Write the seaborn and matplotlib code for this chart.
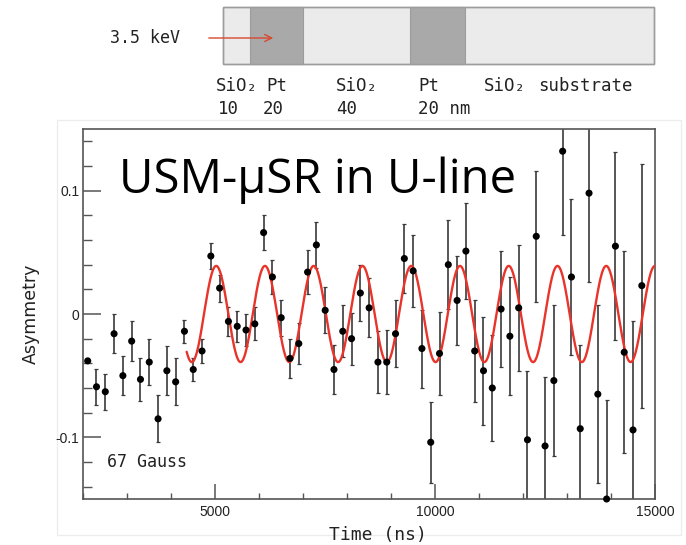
import numpy as np
import pandas as pd
import matplotlib
matplotlib.use("Agg")
import matplotlib.pyplot as plt
import seaborn as sns
from matplotlib.patches import Rectangle, FancyArrowPatch
from matplotlib.ticker import MultipleLocator, FixedLocator

# ---------------- data ----------------
time_ns = [2100, 2300, 2500, 2700, 2900, 3100, 3300, 3500, 3700, 3900,
           4100, 4300, 4500, 4700, 4900, 5100, 5300, 5500, 5700, 5900,
           6100, 6300, 6500, 6700, 6900, 7100, 7300, 7500, 7700, 7900,
           8100, 8300, 8500, 8700, 8900, 9100, 9300, 9500, 9700, 9900,
           10100, 10300, 10500, 10700, 10900, 11100, 11300, 11500, 11700, 11900,
           12100, 12300, 12500, 12700, 12900, 13100, 13300, 13500, 13700, 13900,
           14100, 14300, 14500, 14700]
asymmetry = [-0.038, -0.059, -0.063, -0.016, -0.050, -0.022, -0.053, -0.039, -0.085, -0.046,
             -0.055, -0.014, -0.045, -0.030, 0.047, 0.021, -0.006, -0.010, -0.013, -0.008,
             0.066, 0.030, -0.003, -0.036, -0.024, 0.034, 0.056, 0.003, -0.045, -0.014,
             -0.020, 0.017, 0.005, -0.039, -0.039, -0.016, 0.045, 0.035, -0.028, -0.104,
             -0.032, 0.040, 0.011, 0.051, -0.030, -0.046, -0.060, 0.004, -0.018, 0.005,
             -0.102, 0.063, -0.107, -0.054, 0.132, 0.030, -0.093, 0.098, -0.065, -0.150,
             0.055, -0.031, -0.094, 0.023]
asymmetry_err = [0.0, 0.0146, 0.0146, 0.0157, 0.016, 0.0165, 0.0176, 0.0187, 0.019, 0.020,
                 0.019, 0.0093, 0.0095, 0.010, 0.0104, 0.011, 0.012, 0.0123, 0.013, 0.0133,
                 0.014, 0.0141, 0.0146, 0.0156, 0.0163, 0.0176, 0.0183, 0.0187, 0.020, 0.021,
                 0.021, 0.023, 0.024, 0.025, 0.026, 0.027, 0.028, 0.029, 0.0316, 0.033,
                 0.034, 0.036, 0.036, 0.039, 0.041, 0.0437, 0.043, 0.0467, 0.048, 0.051,
                 0.056, 0.053, 0.056, 0.061, 0.068, 0.063, 0.068, 0.072, 0.072, 0.080,
                 0.076, 0.082, 0.088, 0.099]

# fitted precession (model parameters)
fit_amplitude = 0.039
fit_period_ns = 1108.6
fit_peak_ns = 5022.0
fit_start_ns = 4350.0
fit_end_ns = 15000.0

x_ticks = [5000, 10000, 15000]
x_tick_labels = ["5000", "10000", "15000"]
y_ticks = [-0.1, 0.0, 0.1]
y_tick_labels = ["-0.1", "0", "0.1"]

title_text = "USM-\u03bcSR in U-line"
field_text = "67 Gauss"
x_label = "Time (ns)"
y_label = "Asymmetry"

beam_label = "3.5 keV"
layer_labels = ["SiO\u2082", "Pt", "SiO\u2082", "Pt", "SiO\u2082", "substrate"]
thickness_labels = ["10", "20", "40", "20 nm"]

# ---------------- figure ----------------
sns.set_theme(style="ticks")
plt.rcParams["font.family"] = ["DejaVu Sans"]

W, H = 686, 545
fig = plt.figure(figsize=(W / 100, H / 100), dpi=100)
fig.patch.set_facecolor("white")


def fx(x):
    return x / W


def fy(y):
    return 1 - y / H


# overlay axes in pixel coordinates for the sample sketch
ax0 = fig.add_axes([0, 0, 1, 1], zorder=-1)
ax0.set_xlim(0, W)
ax0.set_ylim(H, 0)
ax0.axis("off")

# faint canvas border of the pasted plot
ax0.add_patch(Rectangle((57, 120), 624, 415, fill=False, edgecolor="#ececec", lw=0.9))

# sample layers
ax0.add_patch(Rectangle((223, 7), 431, 57, facecolor="#ebebeb", edgecolor="#9c9c9c", lw=1.0))
ax0.add_patch(Rectangle((250, 7), 53, 57, facecolor="#a9a9a9", edgecolor="#9c9c9c", lw=0.8))
ax0.add_patch(Rectangle((410, 7), 55, 57, facecolor="#a9a9a9", edgecolor="#9c9c9c", lw=0.8))
ax0.add_patch(Rectangle((223, 7), 431, 57, fill=False, edgecolor="#9c9c9c", lw=1.0))
ax0.add_patch(FancyArrowPatch((206, 38), (276, 38), arrowstyle="->,head_length=5,head_width=2.5",
                              color="#d9472f", lw=1.0, mutation_scale=1))

mono = "DejaVu Sans Mono"
ax0.text(110, 38, beam_label, family=mono, fontsize=12, va="center", ha="left", color="#222222")
row1_x = [216, 266, 336, 418, 484, 538]
for x, s in zip(row1_x, layer_labels):
    ax0.text(x, 86, s, family=mono, fontsize=12.5, va="center", ha="left", color="#222222")
row2_x = [218, 263, 336, 418]
for x, s in zip(row2_x, thickness_labels):
    ax0.text(x, 109, s, family=mono, fontsize=12.5, va="center", ha="left", color="#222222")

# main plot
ax = fig.add_axes([fx(83.3), fy(499), (655 - 83.3) / W, (499 - 129) / H])
ax.set_facecolor("white")

df = pd.DataFrame({"time": time_ns, "asym": asymmetry, "err": asymmetry_err})
ax.errorbar(df["time"], df["asym"], yerr=df["err"], fmt="none", ecolor="#3a3a3a",
            elinewidth=1.2, capsize=1.3, capthick=0.9, zorder=2)

t_fit = np.linspace(fit_start_ns, fit_end_ns, 1500)
fit_df = pd.DataFrame({"time": t_fit,
                       "asym": fit_amplitude * np.cos(2 * np.pi * (t_fit - fit_peak_ns) / fit_period_ns)})
sns.lineplot(data=fit_df, x="time", y="asym", ax=ax, color="#e8342a", lw=1.7, zorder=3)

sns.scatterplot(data=df, x="time", y="asym", ax=ax, color="black", s=26, edgecolor="none",
                zorder=4, clip_on=False)

ax.set_xlim(2000, 15000)
ax.set_ylim(-0.15, 0.15)
ax.xaxis.set_major_locator(FixedLocator(x_ticks))
ax.set_xticklabels(x_tick_labels)
ax.yaxis.set_major_locator(FixedLocator(y_ticks))
ax.set_yticklabels(y_tick_labels)
ax.xaxis.set_minor_locator(MultipleLocator(1000))
ax.yaxis.set_minor_locator(MultipleLocator(0.02))

for sp in ax.spines.values():
    sp.set_visible(True)
    sp.set_color("#555555")
    sp.set_linewidth(1.2)

ax.tick_params(axis="x", which="major", direction="in", length=11, width=1.1, color="#555555",
               pad=4, labelsize=10, labelcolor="#222222")
ax.tick_params(axis="x", which="minor", direction="in", length=4.3, width=1.0, color="#555555")
ax.tick_params(axis="y", which="major", direction="in", length=13, width=1.1, color="#555555",
               pad=3, labelsize=10, labelcolor="#222222")
ax.tick_params(axis="y", which="minor", direction="in", length=6.5, width=1.0, color="#555555")
for lab in ax.get_xticklabels() + ax.get_yticklabels():
    lab.set_family("Liberation Sans")

ax.set_xlabel(x_label, family=mono, fontsize=13, color="#222222", va="center", ha="center")
ax.xaxis.set_label_coords(0.516, -0.097)
ax.set_ylabel(y_label, family="DejaVu Sans", fontsize=12.5, color="#222222", va="center", ha="center")
ax.yaxis.set_label_coords(-0.0915, 0.5)

ax.text(fx(107), fy(462), field_text, transform=fig.transFigure, family=mono, fontsize=12,
        va="center", ha="left", color="#222222")

fig.text(fx(119), fy(193.3), title_text, family="Open Sans", fontsize=34, va="baseline",
         ha="left", color="black")

fig.savefig("out.png", dpi=100, facecolor="white")
